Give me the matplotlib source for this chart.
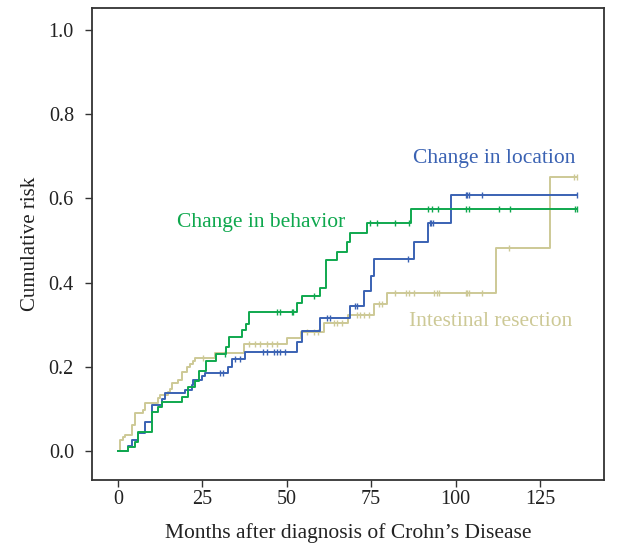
import numpy as np
import matplotlib.pyplot as plt

plt.rcParams['font.family'] = ['Liberation Serif', 'DejaVu Serif']

# Step curves (time in months, cumulative risk)
behavior_t = [0, 3.1, 5.0, 6.0, 10.0, 12.0, 13.0, 18.9, 20.9, 22.8, 24.0, 26.0, 29.0, 32.0,
              32.9, 36.8, 37.9, 38.9, 53.1, 54.5, 59.9, 61.7, 64.9, 67.9, 68.8, 73.8, 86.9, 135.9]
behavior_y = [0, 0.010, 0.022, 0.044, 0.092, 0.104, 0.116, 0.128, 0.151, 0.167, 0.191, 0.214,
              0.230, 0.248, 0.271, 0.287, 0.302, 0.330, 0.351, 0.367, 0.386, 0.454, 0.473, 0.497,
              0.517, 0.541, 0.576, 0.576]

location_t = [0, 3.1, 4.1, 6.0, 8.0, 10.0, 13.0, 13.9, 19.9, 21.9, 22.3, 24.8, 25.8, 32.7, 33.7,
              37.7, 53.0, 54.5, 59.9, 68.8, 73.0, 75.0, 76.0, 87.8, 91.8, 98.7, 135.9]
location_y = [0, 0.012, 0.026, 0.043, 0.068, 0.109, 0.123, 0.137, 0.145, 0.157, 0.169, 0.178,
              0.186, 0.200, 0.218, 0.235, 0.260, 0.285, 0.315, 0.344, 0.381, 0.416, 0.455, 0.497,
              0.542, 0.608, 0.608]

resection_t = [0, 0.6, 1.5, 2.1, 4.1, 5.0, 7.5, 8.0, 12.0, 12.5, 14.9, 15.4, 15.9, 17.9, 18.9,
               20.4, 21.4, 22.3, 22.8, 28.8, 37.2, 50.1, 54.2, 60.9, 68.1, 75.8, 79.7, 111.9,
               128.0, 135.9]
resection_y = [0, 0.026, 0.032, 0.038, 0.062, 0.090, 0.097, 0.113, 0.126, 0.133, 0.141, 0.147,
               0.162, 0.169, 0.188, 0.200, 0.207, 0.214, 0.220, 0.232, 0.253, 0.268, 0.283, 0.303,
               0.323, 0.348, 0.375, 0.481, 0.652, 0.652]

# Censoring times
behavior_cens = [31.8, 47.1, 48.1, 51.5, 52.0, 58.0, 74.8, 76.8, 82.0, 86.1, 91.9, 92.9, 94.9,
                 103.0, 104.0, 112.9, 116.0, 135.3, 135.9]
location_cens = [30.3, 31.2, 34.7, 36.2, 43.1, 44.1, 46.1, 47.1, 48.1, 49.6, 61.9, 62.9, 70.3,
                 70.8, 85.8, 92.3, 92.8, 93.4, 103.0, 103.5, 104.0, 107.9, 135.9]
resection_cens = [25.3, 38.7, 40.7, 42.1, 44.1, 45.6, 47.1, 56.0, 58.0, 59.4, 63.9, 64.9, 66.4,
                  70.8, 71.8, 72.8, 74.3, 77.2, 78.2, 82.2, 85.2, 86.1, 87.6, 93.6, 94.6, 95.1,
                  103.0, 103.5, 104.0, 107.9, 115.8, 135.1, 135.9]

green = '#0fa84e'
blue = '#3a62b3'
tan = '#cdc996'


def step_at(t, y, c):
    # value of the step curve at the censoring times
    idx = np.searchsorted(t, c, side='right') - 1
    return np.array(y)[idx]


fig = plt.figure(figsize=(6.17, 5.43), dpi=100)
ax = fig.add_axes([0.149, 0.116, 0.830, 0.869])

series = [
    (resection_t, resection_y, resection_cens, tan),
    (location_t, location_y, location_cens, blue),
    (behavior_t, behavior_y, behavior_cens, green),
]
for t, y, c, col in series:
    ax.step(t, y, where='post', color=col, lw=1.4)
    ax.plot(c, step_at(t, y, c), ls='none', marker='|', ms=4, mew=1, color=col)

ax.text(111.5, 0.694, 'Change in location', color=blue, fontsize=15.5, ha='center', va='center')
ax.text(42.5, 0.543, 'Change in behavior', color=green, fontsize=15.5, ha='center', va='center')
ax.text(110.5, 0.307, 'Intestinal resection', color=tan, fontsize=15.5, ha='center', va='center')

ax.set_xlim(-7.7, 144)
ax.set_ylim(-0.069, 1.052)
ax.set_xticks([0, 25, 50, 75, 100, 125])
ax.set_yticks([0.0, 0.2, 0.4, 0.6, 0.8, 1.0])
ax.set_yticklabels(['0.0', '0.2', '0.4', '0.6', '0.8', '1.0'])
ax.tick_params(labelsize=14.5, length=5, width=1, color='#333333', labelcolor='#222222')
ax.tick_params(axis='x', pad=2)
ax.tick_params(axis='y', pad=8)
for s in ax.spines.values():
    s.set_color('#333333')
    s.set_linewidth(1.3)

ax.set_xlabel('Months after diagnosis of Crohn\u2019s Disease', fontsize=15.5, color='#222222',
              labelpad=10)
ax.set_ylabel('Cumulative risk', fontsize=15, color='#222222', labelpad=6)

fig.savefig('out.png', dpi=100)
